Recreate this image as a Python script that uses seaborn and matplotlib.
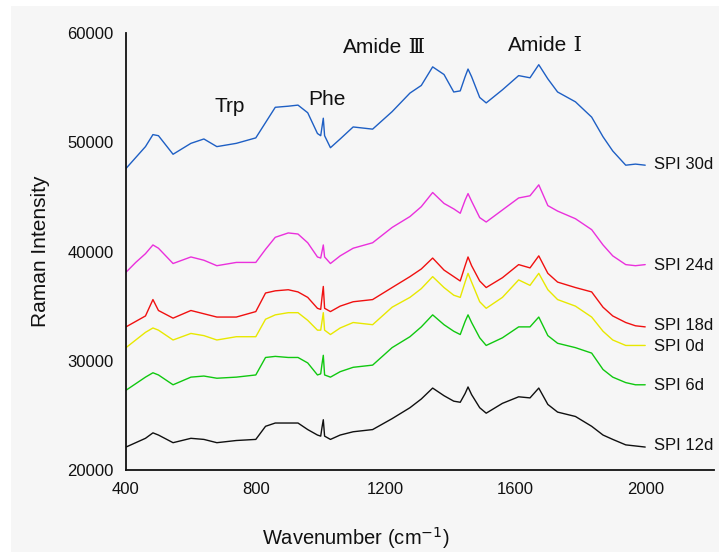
import matplotlib
matplotlib.use("Agg")
import matplotlib.pyplot as plt
from matplotlib.patches import Rectangle
import seaborn as sns
import pandas as pd

# 파수 (cm-1)
wavenumber = [400, 430, 460, 483, 500, 545, 600, 640, 680, 740, 800, 830, 860, 900, 930,
              960, 990, 1000, 1004, 1008, 1012, 1030, 1060, 1100, 1160, 1220, 1275, 1310,
              1345, 1380, 1410, 1430, 1445, 1454, 1465, 1490, 1510, 1560, 1610, 1645, 1672,
              1700, 1730, 1785, 1835, 1870, 1900, 1940, 1970, 2000]

spi_30d = [47600, 48600, 49600, 50700, 50600, 48900, 49900, 50300, 49600, 49900, 50400, 51800,
           53200, 53300, 53400, 52700, 50800, 50600, 51400, 52200, 50600, 49500, 50300, 51400,
           51200, 52800, 54500, 55200, 56900, 56200, 54600, 54700, 56000, 56700, 56000, 54100,
           53600, 54800, 56100, 55900, 57100, 55800, 54600, 53700, 52300, 50500, 49200, 47900,
           48000, 47900]
spi_24d = [38100, 39000, 39800, 40600, 40300, 38900, 39500, 39200, 38700, 39000, 39000, 40200,
           41300, 41700, 41600, 40800, 39500, 39400, 40000, 40600, 39500, 38900, 39600, 40300,
           40800, 42200, 43200, 44100, 45400, 44400, 43900, 43500, 44700, 45300, 44600, 43100,
           42700, 43800, 44900, 45100, 46100, 44200, 43700, 43000, 42000, 40600, 39600, 38800,
           38700, 38800]
spi_18d = [33100, 33600, 34100, 35600, 34600, 33900, 34600, 34300, 34000, 34000, 34500, 36200,
           36400, 36500, 36300, 35800, 34800, 34700, 35800, 36800, 34800, 34500, 35000, 35400,
           35600, 36700, 37700, 38400, 39400, 38300, 37700, 37300, 38700, 39500, 38700, 37300,
           36700, 37600, 38800, 38500, 39600, 38000, 37200, 36700, 36300, 34900, 34100, 33500,
           33200, 33100]
spi_0d = [31200, 31900, 32600, 33000, 32800, 31900, 32500, 32300, 31900, 32200, 32200, 33800,
          34200, 34400, 34400, 33700, 32800, 32800, 33600, 34400, 32800, 32400, 33000, 33500,
          33300, 34900, 35800, 36600, 37700, 36700, 36000, 35800, 37200, 38000, 37200, 35400,
          34800, 35800, 37400, 36900, 38000, 36500, 35600, 35000, 34000, 32700, 31900, 31400,
          31400, 31400]
spi_6d = [27300, 27900, 28500, 28900, 28700, 27800, 28500, 28600, 28400, 28500, 28700, 30300,
          30400, 30300, 30300, 29800, 28700, 28800, 29700, 30500, 28700, 28500, 29000, 29400,
          29600, 31200, 32200, 33100, 34200, 33300, 32700, 32400, 33600, 34200, 33500, 32100,
          31400, 32100, 33100, 33100, 34000, 32300, 31600, 31200, 30700, 29200, 28500, 28000,
          27800, 27800]
spi_12d = [22100, 22500, 22900, 23400, 23200, 22500, 22900, 22800, 22500, 22700, 22800, 24000,
           24300, 24300, 24300, 23700, 23200, 23100, 23900, 24600, 23100, 22800, 23200, 23500,
           23700, 24700, 25700, 26500, 27500, 26800, 26300, 26200, 27000, 27600, 26900, 25700,
           25200, 26100, 26700, 26600, 27500, 26000, 25300, 24900, 24000, 23200, 22800, 22300,
           22200, 22100]

series_names = ['SPI 30d', 'SPI 24d', 'SPI 18d', 'SPI 0d', 'SPI 6d', 'SPI 12d']
series_values = [spi_30d, spi_24d, spi_18d, spi_0d, spi_6d, spi_12d]
label_y = [48000, 38700, 33200, 31300, 27700, 22200]
colors = ['#1e5fc4', '#ea30dc', '#f01010', '#e8e800', '#10c810', '#101010']

# 피크 주석 (Amide 뒤 로마 숫자는 따로)
peak_names = ['Trp', 'Phe', 'Amide', 'Amide']
peak_num = ['', '', 'Ⅲ', 'Ⅰ']
peak_x = [720, 1020, 1251, 1759]
peak_y = [53300, 53900, 58700, 58900]

df = pd.concat([pd.DataFrame({'wavenumber': wavenumber, 'intensity': vals, 'sample': name})
                for name, vals in zip(series_names, series_values)], ignore_index=True)

sns.set_style("white")
plt.rcParams['font.family'] = ['Liberation Sans', 'DejaVu Sans', 'Noto Sans CJK SC']

fig = plt.figure(figsize=(7.19, 5.52), dpi=100, facecolor='white')
fig.patches.append(Rectangle((11 / 719, 0), 1, 1 - 6 / 552, transform=fig.transFigure,
                             facecolor='#f6f6f6', edgecolor='none', zorder=-10))
ax = fig.add_axes([126 / 719, 1 - 470 / 552, (714 - 126) / 719, (470 - 33) / 552])
ax.set_facecolor('#f6f6f6')

sns.lineplot(data=df, x='wavenumber', y='intensity', hue='sample', hue_order=series_names,
             palette=colors, linewidth=1.0, legend=False, ax=ax)

for name, yv, c in zip(series_names, label_y, colors):
    ax.text(2028, yv, name, fontsize=12, va='center', ha='left', color='#111111')

for name, num, xv, yv in zip(peak_names, peak_num, peak_x, peak_y):
    if num:
        ax.text(xv, yv, name, fontsize=15, ha='right', va='center', color='#111111')
        ax.text(xv, yv, ' ' + num, fontsize=15, ha='left', va='center', color='#111111',
                family=['DejaVu Serif', 'Noto Sans CJK SC'])
    else:
        ax.text(xv, yv, name, fontsize=15, ha='center', va='center', color='#111111')

ax.set_xlim(400, 2212)
ax.set_ylim(20000, 60000)
ax.set_xticks([400, 800, 1200, 1600, 2000])
ax.set_yticks([20000, 30000, 40000, 50000, 60000])
ax.tick_params(axis='both', length=0, labelsize=12, colors='#111111')
ax.tick_params(axis='x', pad=9)
ax.tick_params(axis='y', pad=9)
for s in ['top', 'right']:
    ax.spines[s].set_visible(False)
for s in ['left', 'bottom']:
    ax.spines[s].set_color('#111111')
    ax.spines[s].set_linewidth(1.3)

ax.set_xlabel('Wavenumber (cm$^{-1}$)', fontsize=14.5, labelpad=17, color='#111111')
ax.xaxis.set_label_coords((356 - 126) / 588, -0.125)
ax.set_ylabel('Raman Intensity', fontsize=15, labelpad=12, color='#111111')

fig.savefig('out.png', dpi=100, facecolor=fig.get_facecolor())
